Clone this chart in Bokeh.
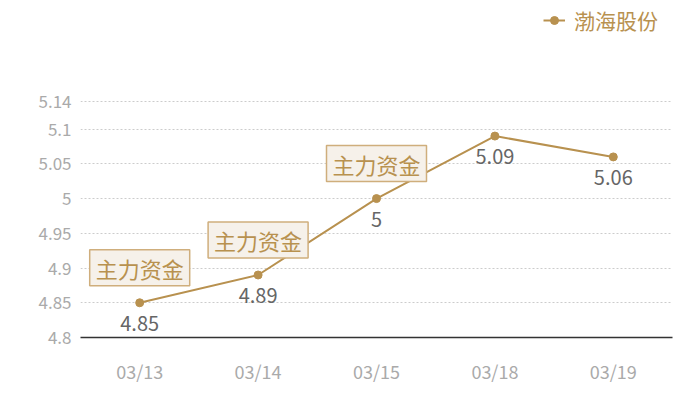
from bokeh.plotting import figure
from bokeh.models import Range1d, FixedTicker, CustomJSTickFormatter, Legend, LegendItem, ColumnDataSource
from bokeh.core.properties import value
from bokeh.embed import file_html
from bokeh.resources import INLINE

dates = ["03/13", "03/14", "03/15", "03/18", "03/19"]
prices = [4.85, 4.89, 5.00, 5.09, 5.06]
price_labels = ["4.85", "4.89", "5", "5.09", "5.06"]
series_name = "渤海股份"
note_dates = ["03/13", "03/14", "03/15"]
note_prices = [4.85, 4.89, 5.00]
note_texts = ["主力资金", "主力资金", "主力资金"]
y_ticks = [4.8, 4.85, 4.9, 4.95, 5.0, 5.05, 5.1, 5.14]

FONT = "Noto Sans CJK SC"
GOLD = "#b8914f"

# frame extends above the top tick so the legend (drawn in the frame) sits at the top of the chart
p = figure(x_range=dates, y_range=Range1d(4.8, 5.278), width=692, height=392,
           output_backend="svg", toolbar_location=None,
           min_border_left=80, min_border_right=20, min_border_top=5, min_border_bottom=55)
p.outline_line_color = None
p.background_fill_color = "white"

src = ColumnDataSource(dict(x=dates, y=prices, lab=price_labels))
ln = p.line("x", "y", source=src, line_color=GOLD, line_width=2)
pt = p.scatter("x", "y", source=src, size=8, fill_color=GOLD, line_color=GOLD)

p.text("x", "y", text="lab", source=src, text_font=value(FONT), text_font_size="20px",
       text_color="#666666", text_align="center", text_baseline="top", y_offset=13)

nsrc = ColumnDataSource(dict(x=note_dates, y=note_prices, t=note_texts))
p.text("x", "y", text="t", source=nsrc, text_font=value(FONT), text_font_size="22px",
       text_color=GOLD, anchor="bottom_center", y_offset=-17,
       background_fill_color="#f6f1ea", border_line_color="#cfae7c", border_line_width=1.5,
       padding=dict(left=6, right=6, top=2, bottom=2))

p.xgrid.grid_line_color = None
p.ygrid.grid_line_color = "#cccccc"
p.ygrid.grid_line_dash = "2 2"
p.ygrid.ticker = FixedTicker(ticks=y_ticks)

p.yaxis.ticker = FixedTicker(ticks=y_ticks)
p.yaxis.formatter = CustomJSTickFormatter(code="return String(Number(tick.toFixed(2)));")
p.yaxis.axis_line_color = None
p.yaxis.major_tick_line_color = None
p.yaxis.major_tick_out = 0
p.yaxis.minor_tick_line_color = None
p.yaxis.major_label_text_font = FONT
p.yaxis.major_label_text_font_size = "17px"
p.yaxis.major_label_text_color = "#aaaaaa"
p.yaxis.major_label_standoff = 9

p.xaxis.axis_line_color = "#333333"
p.xaxis.axis_line_width = 1.5
p.xaxis.major_tick_line_color = None
p.xaxis.major_tick_out = 0
p.xaxis.minor_tick_line_color = None
p.xaxis.major_label_text_font = FONT
p.xaxis.major_label_text_font_size = "18px"
p.xaxis.major_label_text_color = "#aaaaaa"
p.xaxis.major_label_standoff = 20

legend = Legend(items=[LegendItem(label=series_name, renderers=[ln, pt])],
                location=(463, 302), orientation="horizontal",
                label_text_font=FONT, label_text_font_size="21px", label_text_color=GOLD,
                background_fill_alpha=0, border_line_color=None, glyph_width=22,
                label_standoff=9, padding=0, margin=0)
p.add_layout(legend, "center")

open("out.html", "w").write(file_html(p, INLINE))
